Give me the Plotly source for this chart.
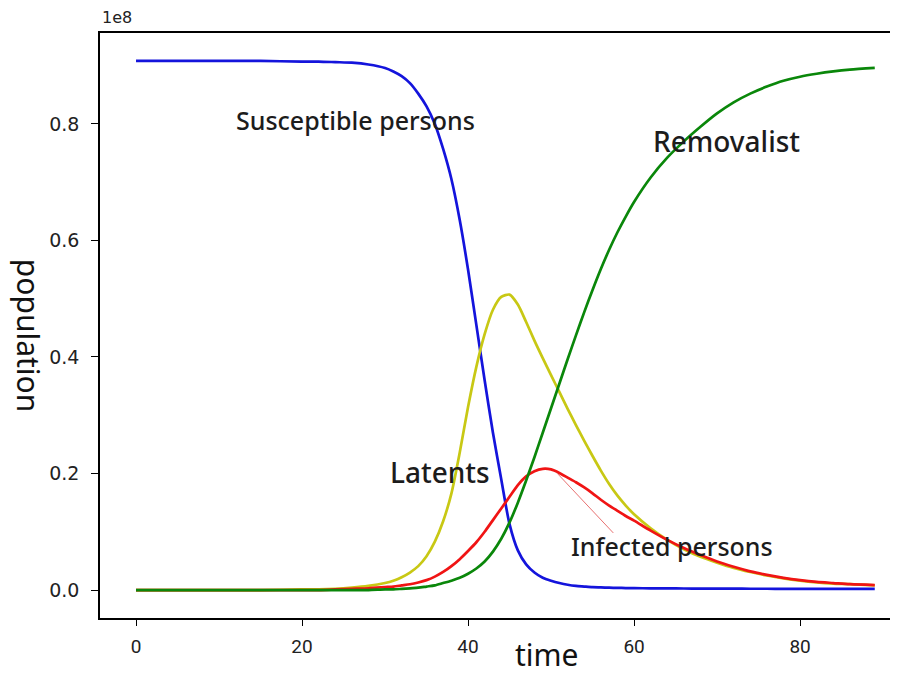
import plotly.graph_objects as go

# time points (days)
t = [0, 5, 10, 15, 20, 22, 24, 26, 28, 30,
     31, 32, 33, 34, 35, 36, 37, 38, 39, 40,
     41, 42, 43, 44, 45, 46, 47, 48, 49, 50,
     51, 52, 53, 54, 55, 56, 57, 58, 59, 60,
     62, 64, 66, 68, 70, 72, 74, 76, 78, 80, 82, 84, 86, 89]

# populations in units of 1e8
susceptible = [0.908, 0.908, 0.908, 0.908, 0.907, 0.907, 0.906, 0.905, 0.902, 0.896,
               0.890, 0.882, 0.870, 0.852, 0.830, 0.800, 0.757, 0.705, 0.635, 0.550,
               0.455, 0.360, 0.270, 0.190, 0.113, 0.068, 0.044, 0.030, 0.021, 0.016,
               0.012, 0.009, 0.007, 0.006, 0.005, 0.0045, 0.004, 0.0037, 0.0034, 0.0032,
               0.003, 0.0028, 0.0026, 0.0025, 0.0024, 0.0023, 0.0022, 0.0022, 0.0021, 0.0021, 0.002, 0.002, 0.002, 0.002]
latents = [0.0, 0.0, 0.0, 0.0, 0.001, 0.001, 0.002, 0.004, 0.007, 0.012,
           0.016, 0.022, 0.030, 0.041, 0.058, 0.083, 0.118, 0.166, 0.236, 0.314,
           0.383, 0.439, 0.481, 0.503, 0.507, 0.490, 0.460, 0.428, 0.398, 0.369,
           0.340, 0.311, 0.283, 0.256, 0.230, 0.205, 0.182, 0.162, 0.145, 0.130,
           0.106, 0.086, 0.070, 0.057, 0.047, 0.038, 0.031, 0.025, 0.020, 0.016, 0.013, 0.011, 0.010, 0.008]
infected = [0.0, 0.0, 0.0, 0.0, 0.0, 0.0, 0.001, 0.002, 0.003, 0.005,
            0.006, 0.008, 0.010, 0.013, 0.017, 0.023, 0.031, 0.041, 0.053, 0.067,
            0.082, 0.100, 0.120, 0.140, 0.160, 0.180, 0.195, 0.204, 0.208, 0.207,
            0.201, 0.193, 0.185, 0.176, 0.166, 0.155, 0.145, 0.136, 0.127, 0.119,
            0.102, 0.086, 0.072, 0.060, 0.049, 0.040, 0.032, 0.026, 0.021, 0.017, 0.014, 0.012, 0.010, 0.0085]
removed = [0.0, 0.0, 0.0, 0.0, 0.0, 0.0, 0.0, 0.0, 0.0, 0.001,
           0.001, 0.002, 0.003, 0.004, 0.006, 0.008, 0.012, 0.016, 0.021, 0.028,
           0.037, 0.049, 0.066, 0.088, 0.116, 0.150, 0.188, 0.228, 0.270, 0.312,
           0.354, 0.396, 0.437, 0.477, 0.515, 0.551, 0.584, 0.614, 0.641, 0.666,
           0.708, 0.742, 0.770, 0.795, 0.818, 0.837, 0.852, 0.864, 0.874, 0.881, 0.886, 0.890, 0.893, 0.896]

x_ticks = [0, 20, 40, 60, 80]
y_ticks = [0.0, 0.2, 0.4, 0.6, 0.8]
y_tick_labels = ["0.0", "0.2", "0.4", "0.6", "0.8"]

series = [
    ("Susceptible persons", susceptible, "#1414dc"),
    ("Latents", latents, "#c8c814"),
    ("Infected persons", infected, "#f01414"),
    ("Removalist", removed, "#0a870a"),
]

fig = go.Figure()
for name, vals, col in series:
    fig.add_trace(go.Scatter(x=t, y=vals, mode="lines", name=name,
                             line=dict(color=col, width=2.7, shape="spline", smoothing=0.7)))

labels = [
    ("Susceptible persons", 26.4, 0.807, 25),
    ("Removalist", 71.1, 0.771, 28),
    ("Latents", 36.6, 0.203, 28),
    ("Infected persons", 64.6, 0.0755, 25),
]
for txt, lx, ly, fs in labels:
    fig.add_annotation(x=lx, y=ly, xref="x", yref="y", text=txt, showarrow=False,
                       xanchor="center", yanchor="middle",
                       font=dict(family="Noto Sans", size=fs, color="#1c1c1c", weight=500))

# pointer line for "Infected persons"
pointer = (50.7, 0.201, 57.5, 0.098)
fig.add_shape(type="line", xref="x", yref="y", x0=pointer[0], y0=pointer[1],
              x1=pointer[2], y1=pointer[3], line=dict(color="#e87070", width=1))

fig.add_annotation(x=0.56, y=-0.0632, xref="paper", yref="paper", text="time",
                   showarrow=False, xanchor="center", yanchor="middle",
                   font=dict(family="Noto Sans", size=30, color="#111"))
fig.add_annotation(x=-0.0902, y=0.484, xref="paper", yref="paper", text="population",
                   showarrow=False, textangle=90, xanchor="center", yanchor="middle",
                   font=dict(family="Noto Sans", size=30, color="#111"))
fig.add_annotation(x=0.0, y=1.0, xref="paper", yref="paper", text="1e8",
                   showarrow=False, xanchor="left", yanchor="bottom", yshift=4,
                   font=dict(family="DejaVu Sans", size=16, color="#222"))

fig.update_layout(
    width=890, height=667,
    margin=dict(l=92, r=0, t=25, b=57),
    paper_bgcolor="white", plot_bgcolor="white",
    showlegend=False,
    xaxis=dict(range=[-4.34, 91.8], tickvals=x_ticks, showgrid=False, zeroline=False,
               showline=True, linecolor="black", linewidth=1.5, mirror=True,
               ticks="outside", ticklen=6, tickcolor="black", tickwidth=1.2,
               ticklabelstandoff=4,
               tickfont=dict(family="Roboto", size=19, color="#222")),
    yaxis=dict(range=[-0.048, 0.956], tickvals=y_ticks, ticktext=y_tick_labels,
               showgrid=False, zeroline=False,
               showline=True, linecolor="black", linewidth=1.5,
               ticks="outside", ticklen=7, tickcolor="black", tickwidth=1.2,
               ticklabelstandoff=8,
               tickfont=dict(family="DejaVu Sans", size=19, color="#222")),
)

fig.write_html("out.html")
